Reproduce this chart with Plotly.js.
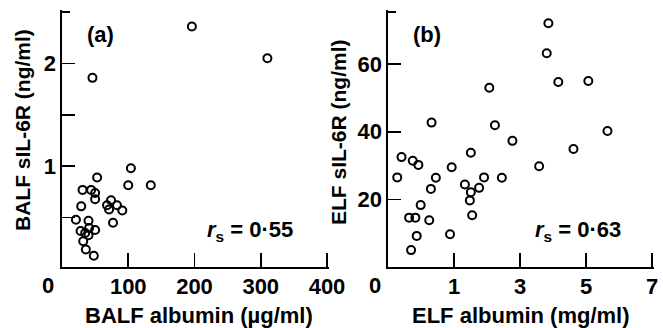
<!DOCTYPE html>
<html>
<head>
<meta charset="utf-8">
<script src="https://cdn.plot.ly/plotly-3.0.1.min.js"></script>
<style>html,body{margin:0;padding:0;background:#fff;}#chart{width:663px;height:328px;}</style>
</head>
<body>
<div id="chart"></div>
<script>
// Panel (a): BALF albumin (µg/ml) vs BALF sIL-6R (ng/ml)
var balfAlbumin = [196, 310, 46, 104, 53, 100, 134, 31, 44, 50, 50, 74, 68, 83, 71, 91, 77, 29, 21, 40, 28, 35, 41, 50, 40, 32, 36, 48];
var balfSIL6R   = [2.36, 2.05, 1.86, 0.98, 0.89, 0.815, 0.815, 0.77, 0.77, 0.74, 0.68, 0.67, 0.62, 0.62, 0.58, 0.57, 0.45, 0.61, 0.48, 0.47, 0.37, 0.35, 0.40, 0.38, 0.33, 0.27, 0.19, 0.13];

// Panel (b): ELF albumin (mg/ml) vs ELF sIL-6R (ng/ml), read against the printed tick labels
var elfAlbumin = [3.86, 3.81, 4.16, 5.07, 2.07, 0.32, 2.24, 5.65, 2.77, 4.62, 1.51, -0.59, -0.25, -0.08, 0.93, 3.58, -0.72, 0.45, 1.91, 2.45, 1.33, 0.30, 1.76, 1.51, 1.48, -0.01, 1.55, -0.36, -0.17, 0.25, 0.88, -0.13, -0.30];
var elfSIL6R   = [72.1, 63.2, 54.7, 55.0, 53.0, 42.7, 41.9, 40.2, 37.3, 34.9, 33.8, 32.5, 31.4, 30.2, 29.5, 29.8, 26.5, 26.4, 26.5, 26.4, 24.4, 23.1, 23.4, 22.1, 19.7, 18.3, 15.3, 14.6, 14.6, 13.8, 9.7, 9.2, 5.0];

// Tick labels
var xTicksA = [100, 200, 300, 400];
var xTickTextA = ["100", "200", "300", "400"];
var yTicksA = [0.5, 1, 1.5, 2];
var yTickTextA = ["", "1", "", "2"];
var yCapA = [2.5];
var xTicksB = [1, 3, 5, 7];
var xTickTextB = ["1", "3", "5", "7"];
var yTicksB = [20, 40, 60];
var yTickTextB = ["20", "40", "60"];
var yCapB = [75.4];

var W = 663, H = 328;
function px(x){ return x / W; }
function py(y){ return 1 - y / H; }
function font(size){ return {family: "Liberation Sans, Arial, Helvetica, sans-serif", size: size || 21, color: "#000", weight: "bold"}; }
function marker(){ return {symbol: "circle-open", size: 8, color: "#000", line: {width: 2, color: "#000"}}; }

var DOM_XA = [px(62), px(329)], RANGE_XA = [0, 403];
var DOM_XB = [px(388), px(654)], RANGE_XB = [-1, 7.06];
var DOM_Y = [py(267), py(10)];
var RANGE_YA = [0.02, 2.52];
var RANGE_YB = [0, 76];

var traces = [
  {x: balfAlbumin, y: balfSIL6R, type: "scatter", mode: "markers", marker: marker(), xaxis: "x", yaxis: "y", hoverinfo: "skip"},
  {x: elfAlbumin, y: elfSIL6R, type: "scatter", mode: "markers", marker: marker(), xaxis: "x2", yaxis: "y2", hoverinfo: "skip"},
  // empty traces that carry the axis-line axes
  {x: [], y: [], type: "scatter", mode: "markers", xaxis: "x3", yaxis: "y", hoverinfo: "skip"},
  {x: [], y: [], type: "scatter", mode: "markers", xaxis: "x", yaxis: "y3", hoverinfo: "skip"},
  {x: [], y: [], type: "scatter", mode: "markers", xaxis: "x4", yaxis: "y2", hoverinfo: "skip"},
  {x: [], y: [], type: "scatter", mode: "markers", xaxis: "x2", yaxis: "y4", hoverinfo: "skip"}
];

// axes carrying ticks and labels (no line)
function tickAxis(extra){
  return Object.assign({
    showline: false, showgrid: false, zeroline: false,
    ticks: "inside", tickcolor: "#000", tickwidth: 1.6,
    tickmode: "array", tickfont: font(22), fixedrange: true
  }, extra);
}
// axes carrying only the axis line
function lineAxis(extra){
  return Object.assign({
    showline: true, linecolor: "#000", linewidth: 1.6,
    showgrid: false, zeroline: false, ticks: "", showticklabels: false, fixedrange: true
  }, extra);
}
function capMinor(vals){
  return {tickmode: "array", tickvals: vals, ticks: "inside", ticklen: 8, tickcolor: "#000", tickwidth: 1.6, showgrid: false};
}

var layout = {
  width: W, height: H,
  margin: {l: 0, r: 0, t: 0, b: 0},
  paper_bgcolor: "#fff", plot_bgcolor: "rgba(0,0,0,0)",
  showlegend: false,
  font: font(21),
  xaxis:  tickAxis({domain: DOM_XA, range: RANGE_XA, tickvals: xTicksA, ticktext: xTickTextA, ticklen: 14, ticklabelstandoff: 4, anchor: "y"}),
  yaxis:  tickAxis({domain: DOM_Y, range: RANGE_YA, tickvals: yTicksA, ticktext: yTickTextA, ticklen: 13, ticklabelstandoff: 5, anchor: "x", minor: capMinor(yCapA)}),
  xaxis2: tickAxis({domain: DOM_XB, range: RANGE_XB, tickvals: xTicksB, ticktext: xTickTextB, ticklen: 14, ticklabelstandoff: 4, anchor: "y2"}),
  yaxis2: tickAxis({domain: DOM_Y, range: RANGE_YB, tickvals: yTicksB, ticktext: yTickTextB, ticklen: 13, ticklabelstandoff: 5, anchor: "x2", minor: capMinor(yCapB)}),
  xaxis3: lineAxis({overlaying: "x", anchor: "y", side: "bottom", range: RANGE_XA}),
  yaxis3: lineAxis({overlaying: "y", anchor: "x", side: "left", range: RANGE_YA}),
  xaxis4: lineAxis({overlaying: "x2", anchor: "y2", side: "bottom", range: RANGE_XB}),
  yaxis4: lineAxis({overlaying: "y2", anchor: "x2", side: "left", range: RANGE_YB})
};

function ann(text, x, y, opts){
  return Object.assign({text: text, xref: "paper", yref: "paper", x: px(x), y: py(y), showarrow: false, font: font(22), xanchor: "center", yanchor: "middle"}, opts || {});
}

layout.annotations = [
  ann("0", 47.5, 285),
  ann("0", 375, 285),
  ann("BALF albumin (µg/ml)", 199, 315),
  ann("ELF albumin (mg/ml)", 521, 315),
  ann("BALF sIL-6R (ng/ml)", 22, 130, {textangle: -90, font: font(21)}),
  ann("ELF sIL-6R (ng/ml)", 338, 132, {textangle: -90, font: font(21)}),
  ann("(a)", 100.5, 35),
  ann("(b)", 426.5, 35),
  ann("<i>r</i><sub>s</sub> = 0·55", 295, 231, {xanchor: "right"}),
  ann("<i>r</i><sub>s</sub> = 0·63", 623, 231, {xanchor: "right"})
];

Plotly.newPlot("chart", traces, layout, {staticPlot: true, displayModeBar: false});
</script>
</body>
</html>
